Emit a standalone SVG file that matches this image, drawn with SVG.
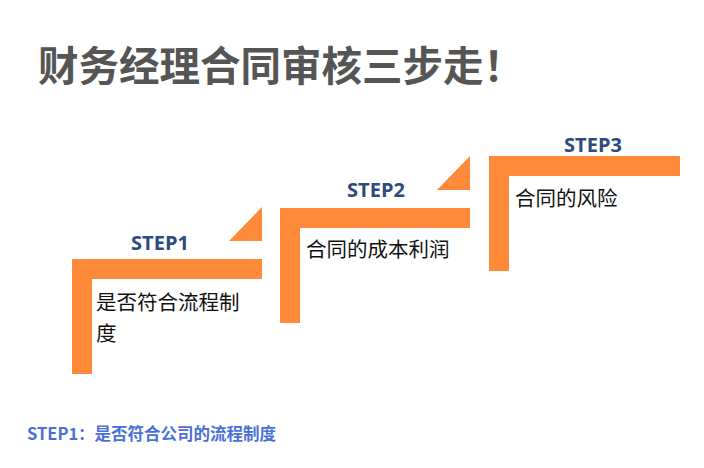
<svg xmlns="http://www.w3.org/2000/svg" width="704" height="468" viewBox="0 0 704 468">
<style>
.bar{fill:#FF8A3A}
.step{font-family:"Open Sans","Noto Sans",sans-serif;font-weight:bold;font-size:20px;fill:#2E4A7E;text-anchor:middle}
.t{font-family:"Noto Sans CJK SC",sans-serif;font-size:20.5px;fill:#111}
</style>
<rect width="704" height="468" fill="#fff"/>
<text x="38" y="81" font-family="Noto Sans CJK SC,sans-serif" font-weight="bold" font-size="40.5" fill="#555">财务经理合同审核三步走！</text>
<g id="step1">
<path class="bar" d="M72 259H262V279H92V374H72Z"/>
<path class="bar" d="M262 207V241H229Z"/>
<text class="step" x="160" y="250">STEP1</text>
<text class="t" x="96" y="310">是否符合流程制</text>
<text class="t" x="96" y="341">度</text>
</g>
<g id="step2">
<path class="bar" d="M280 208H470V228H300V323H280Z"/>
<path class="bar" d="M470 156V190H437Z"/>
<text class="step" x="376" y="197">STEP2</text>
<text class="t" x="306" y="257">合同的成本利润</text>
</g>
<g id="step3">
<path class="bar" d="M489 156H680V176H509V271H489Z"/>
<text class="step" x="593" y="152">STEP3</text>
<text class="t" x="515" y="206">合同的风险</text>
</g>
<g id="connectors"/>
<text x="27" y="440" font-family="Noto Sans CJK SC,sans-serif" font-weight="bold" font-size="16.5" fill="#4A6FD8">STEP1：是否符合公司的流程制度</text>
</svg>
